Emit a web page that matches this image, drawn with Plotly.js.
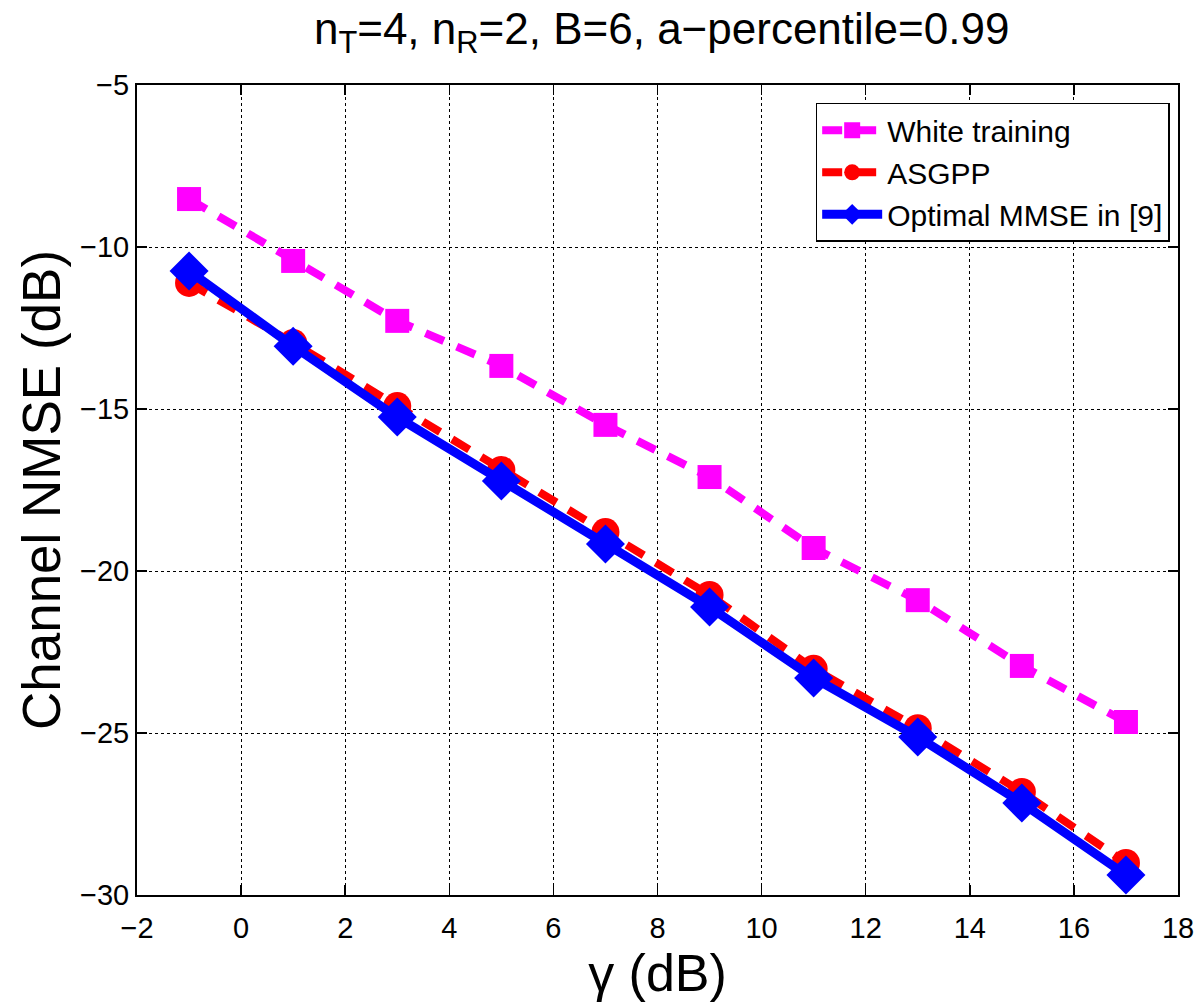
<!DOCTYPE html>
<html>
<head>
<meta charset="utf-8">
<script src="https://cdn.plot.ly/plotly-3.0.1.min.js"></script>
<style>html,body{margin:0;padding:0;background:#fff;}#chart{width:1200px;height:1002px;}</style>
</head>
<body>
<div id="chart"></div>
<script>
const gammaDB = [-1, 1, 3, 5, 7, 9, 11, 13, 15, 17];
const whiteTraining = [-8.52, -10.43, -12.28, -13.67, -15.49, -17.10, -19.29, -20.90, -22.93, -24.66];
const asgpp = [-11.11, -12.96, -14.91, -16.88, -18.80, -20.74, -23.02, -24.85, -26.82, -29.01];
const optimalMMSE = [-10.74, -13.06, -15.25, -17.22, -19.17, -21.11, -23.30, -25.12, -27.16, -29.38];
const seriesNames = ["White training", "ASGPP", "Optimal MMSE in [9]"];
const xTicks = [-2, 0, 2, 4, 6, 8, 10, 12, 14, 16, 18];
const yTicks = [-30, -25, -20, -15, -10, -5];

const font = "Liberation Sans, Arial, Helvetica, sans-serif";
const traces = [
  {x: gammaDB, y: whiteTraining, name: seriesNames[0], mode: "lines+markers",
   line: {color: "#ff00ff", width: 8, dash: "20px,14px"},
   marker: {symbol: "square", size: 24, color: "#ff00ff"}},
  {x: gammaDB, y: asgpp, name: seriesNames[1], mode: "lines+markers",
   line: {color: "#ff0000", width: 8, dash: "20px,14px"},
   marker: {symbol: "circle", size: 28, color: "#ff0000"}},
  {x: gammaDB, y: optimalMMSE, name: seriesNames[2], mode: "lines+markers",
   line: {color: "#0000ff", width: 9},
   marker: {symbol: "diamond", size: 30, color: "#0000ff"}}
];
const axisCommon = {
  showline: true, mirror: "ticks", linecolor: "#000", linewidth: 2,
  ticks: "inside", ticklen: 10, tickwidth: 1.5, tickcolor: "#000",
  showgrid: true, gridcolor: "#000", griddash: "dot", gridwidth: 1,
  zeroline: false, tickfont: {family: font, size: 29, color: "#000"}
};
const layout = {
  width: 1200, height: 1002,
  margin: {l: 137, r: 22, t: 85, b: 107},
  paper_bgcolor: "#fff", plot_bgcolor: "#fff",
  title: {text: "n<sub>T</sub>=4, n<sub>R</sub>=2, B=6, a\u2212percentile=0.99",
          font: {family: font, size: 44, color: "#000"}, xref: "paper", x: 0.504, xanchor: "center", y: 0.987, yanchor: "top"},
  xaxis: Object.assign({}, axisCommon, {range: [-2, 18], tickvals: xTicks,
    ticktext: xTicks.map(v => v < 0 ? "\u2212" + Math.abs(v) : String(v)),
    ticklabelstandoff: 6,
    title: {text: "\u03b3 (dB)", font: {family: font, size: 52, color: "#000"}, standoff: 4}}),
  yaxis: Object.assign({}, axisCommon, {range: [-30, -5], tickvals: yTicks,
    ticktext: yTicks.map(v => v < 0 ? "\u2212" + Math.abs(v) : String(v)),
    title: {text: "Channel NMSE (dB)", font: {family: font, size: 53, color: "#000"}, standoff: 2}}),
  legend: {x: 0.992, xanchor: "right", y: 0.978, yanchor: "top",
    bgcolor: "#fff", bordercolor: "#000", borderwidth: 1.5,
    font: {family: font, size: 30, color: "#000"}, itemwidth: 60, tracegroupgap: 0},
  showlegend: true
};
Plotly.newPlot("chart", traces, layout, {displayModeBar: false, staticPlot: true});
</script>
</body>
</html>
